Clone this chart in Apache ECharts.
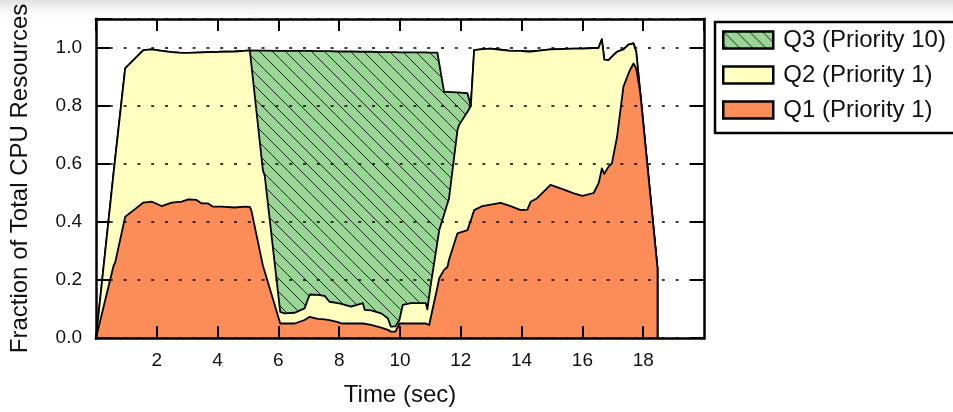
<!DOCTYPE html>
<html>
<head>
<meta charset="utf-8">
<script src="https://cdn.jsdelivr.net/npm/echarts@6/dist/echarts.min.js"></script>
<style>
  html, body { margin: 0; padding: 0; }
  body { background: linear-gradient(to bottom, #e0e0e0 0px, #f4f4f4 9px, #ffffff 18px); }
  #chart { width: 953px; height: 412px; }
</style>
</head>
<body>
<div id="chart"></div>
<script>
// Time (sec)
const times = [0, 0.58, 0.63, 0.96, 1.23, 1.56, 1.84, 2.16, 2.49, 2.82, 3.04, 3.31, 3.48, 3.69, 3.85, 4.13, 4.56, 4.89, 5.06, 5.11,
  5.49, 5.55, 6.06, 6.2, 6.54, 6.86, 7.03, 7.3, 7.52, 7.68, 7.96, 8.07, 8.39, 8.78, 8.84, 9.05, 9.38, 9.6, 9.7, 9.85,
  9.98, 10.09, 10.36, 10.85, 10.9, 10.96, 11.02, 11.23, 11.29, 11.45, 11.56, 11.61, 11.89, 11.94, 12.22, 12.27, 12.33, 12.44, 12.71, 12.98,
  13.31, 13.64, 13.97, 14.19, 14.3, 14.51, 14.95, 15.28, 15.72, 16.0, 16.37, 16.53, 16.59, 16.64, 16.72, 16.86, 16.97, 17.14, 17.35, 17.52,
  17.57, 17.68, 17.77, 17.9, 18.47, 18.47];

// Q1 (Priority 1) share of CPU
const q1 = [0, 0.25, 0.26, 0.418, 0.44, 0.467, 0.47, 0.455, 0.467, 0.47, 0.478, 0.476, 0.464, 0.464, 0.453, 0.453, 0.45, 0.453, 0.452, 0.44,
  0.25, 0.245, 0.05, 0.05, 0.05, 0.062, 0.073, 0.066, 0.064, 0.062, 0.055, 0.05, 0.05, 0.05, 0.048, 0.045, 0.036, 0.028, 0.022, 0.022,
  0.05, 0.05, 0.05, 0.05, 0.047, 0.045, 0.074, 0.175, 0.206, 0.235, 0.245, 0.269, 0.361, 0.363, 0.372, 0.388, 0.406, 0.441, 0.455, 0.46,
  0.466, 0.455, 0.441, 0.443, 0.47, 0.482, 0.528, 0.516, 0.499, 0.49, 0.5, 0.533, 0.56, 0.585, 0.566, 0.591, 0.602, 0.694, 0.867, 0.913,
  0.925, 0.947, 0.93, 0.848, 0.24, 0];

// Q2 (Priority 1) share of CPU
const q2 = [0, 0.32, 0.315, 0.512, 0.518, 0.526, 0.525, 0.535, 0.519, 0.513, 0.505, 0.508, 0.521, 0.522, 0.533, 0.534, 0.538, 0.537, 0.54, 0.504,
  0.328, 0.315, 0.04, 0.035, 0.037, 0.04, 0.077, 0.083, 0.081, 0.063, 0.065, 0.068, 0.058, 0.07, 0.049, 0.05, 0.049, 0.04, 0.017, 0.018,
  0.012, 0.064, 0.07, 0.07, 0.052, 0.099, 0.115, 0.156, 0.166, 0.191, 0.219, 0.211, 0.356, 0.371, 0.408, 0.398, 0.394, 0.552, 0.541, 0.538,
  0.528, 0.535, 0.549, 0.545, 0.518, 0.508, 0.467, 0.48, 0.499, 0.508, 0.5, 0.467, 0.442, 0.445, 0.394, 0.367, 0.368, 0.293, 0.128, 0.099,
  0.093, 0.069, 0.057, 0, 0, 0];

// Q3 (Priority 10) share of CPU
const q3 = [0, 0, 0, 0, 0, 0, 0, 0, 0, 0, 0, 0, 0, 0, 0, 0, 0, 0, 0, 0.048,
  0.413, 0.431, 0.9, 0.905, 0.903, 0.888, 0.84, 0.84, 0.844, 0.864, 0.868, 0.87, 0.88, 0.867, 0.89, 0.892, 0.901, 0.918, 0.947, 0.946,
  0.923, 0.871, 0.865, 0.865, 0.885, 0.84, 0.795, 0.653, 0.575, 0.423, 0.385, 0.369, 0.13, 0.112, 0.064, 0.058, 0, 0, 0, 0,
  0, 0, 0, 0, 0, 0, 0, 0, 0, 0, 0, 0, 0, 0, 0, 0, 0, 0, 0, 0,
  0, 0, 0, 0, 0, 0];

const seriesNames = ['Q1 (Priority 1)', 'Q2 (Priority 1)', 'Q3 (Priority 10)'];
const legendOrder = ['Q3 (Priority 10)', 'Q2 (Priority 1)', 'Q1 (Priority 1)'];
const xTickLabels = ['2', '4', '6', '8', '10', '12', '14', '16', '18'];
const yTickLabels = ['0.0', '0.2', '0.4', '0.6', '0.8', '1.0'];

const FONT = '"Liberation Sans", Arial, Helvetica, sans-serif';
const C_Q1 = '#fc8d59', C_Q2 = '#ffffbf', C_Q3 = '#99d594';

function hatch() {
  const s = 13;
  const c = document.createElement('canvas');
  c.width = s; c.height = s;
  const g = c.getContext('2d');
  g.fillStyle = C_Q3; g.fillRect(0, 0, s, s);
  g.strokeStyle = '#1e1e1e'; g.lineWidth = 1;
  g.beginPath();
  g.moveTo(-1, -1); g.lineTo(s + 1, s + 1);
  g.moveTo(-1, s - 1); g.lineTo(1, s + 1);
  g.moveTo(s - 1, -1); g.lineTo(s + 1, 1);
  g.stroke();
  return { image: c, repeat: 'repeat' };
}
const hatchFill = hatch();

// Stacked layers (cumulative tops) built from the per-queue shares
const layers = [q1, q2, q3];
const stacked = layers.map((_, k) => times.map((t, i) => {
  let s = 0;
  for (let j = 0; j <= k; j++) s += layers[j][i];
  return [t, Math.round(s * 1000) / 1000];
}));

const chart = echarts.init(document.getElementById('chart'), null, { renderer: 'canvas' });

function mk(name, data, fill, z) {
  return {
    name: name, type: 'line', xAxisIndex: 0, yAxisIndex: 0,
    showSymbol: false, symbol: 'none', smooth: false,
    data: data,
    lineStyle: { color: '#000', width: 1.8, join: 'round' },
    itemStyle: { color: fill },
    areaStyle: { color: fill, opacity: 1, origin: 'start' },
    z: z
  };
}

const axisCommon = {
  axisLine: { show: true, onZero: false, lineStyle: { color: '#000', width: 2.5, cap: 'square' } },
  axisTick: { show: true, inside: true, length: 12, lineStyle: { color: '#000', width: 2 } },
  splitLine: { show: false },
  z: 10
};

chart.setOption({
  animation: false,
  backgroundColor: 'transparent',
  textStyle: { fontFamily: FONT },
  grid: { left: 94, right: 249, top: 19, bottom: 74, containLabel: false },
  legend: {
    orient: 'vertical', left: 715, top: 22,
    padding: [6, 18, 11, 7],
    itemWidth: 50, itemHeight: 17, itemGap: 11,
    icon: 'rect', selectedMode: false,
    borderColor: '#000', borderWidth: 2.5, backgroundColor: '#fff',
    textStyle: { fontSize: 24, fontFamily: FONT, color: '#111', lineHeight: 24, padding: [0, 0, 0, 5] },
    itemStyle: { borderColor: '#000', borderWidth: 2.5 },
    data: legendOrder.map(n => ({
      name: n,
      itemStyle: { color: n === seriesNames[2] ? hatchFill : (n === seriesNames[1] ? C_Q2 : C_Q1), borderColor: '#000', borderWidth: 2.5 }
    }))
  },
  xAxis: [
    Object.assign({}, axisCommon, {
      type: 'value', position: 'bottom', min: 0, max: 20, interval: 2,
      name: 'Time (sec)', nameLocation: 'middle', nameGap: 45,
      nameTextStyle: { fontSize: 24, color: '#111', fontFamily: FONT },
      axisLabel: {
        show: true, margin: 13, fontSize: 19, color: '#111', fontFamily: FONT,
        showMinLabel: false, showMaxLabel: false,
        formatter: v => { const s = String(v); return xTickLabels.indexOf(s) >= 0 ? s : ''; }
      }
    }),
    Object.assign({}, axisCommon, {
      type: 'value', position: 'top', min: 0, max: 20, interval: 2,
      axisLabel: { show: false }
    })
  ],
  yAxis: [
    Object.assign({}, axisCommon, {
      type: 'value', position: 'left', min: 0, max: 1.1, interval: 0.2,
      name: 'Fraction of Total CPU Resources', nameLocation: 'middle', nameGap: 64, nameRotate: 90,
      nameTextStyle: { fontSize: 24, color: '#111', fontFamily: FONT },
      axisTick: { show: true, inside: true, length: 14, lineStyle: { color: '#000', width: 2 } },
      axisLabel: {
        show: true, margin: 14, fontSize: 19, color: '#111', fontFamily: FONT,
        formatter: v => { const s = v.toFixed(1); return yTickLabels.indexOf(s) >= 0 && v < 1.05 ? s : ''; }
      },
      splitLine: { show: true, lineStyle: { color: '#000', width: 1.5, type: [3, 10.8] } }
    }),
    Object.assign({}, axisCommon, {
      type: 'value', position: 'right', min: 0, max: 1.1, interval: 0.2,
      axisTick: { show: true, inside: true, length: 14, lineStyle: { color: '#000', width: 2 } },
      axisLabel: { show: false }
    })
  ],
  series: [
    mk(seriesNames[2], stacked[2], hatchFill, 2),
    mk(seriesNames[1], stacked[1], C_Q2, 3),
    mk(seriesNames[0], stacked[0], C_Q1, 4)
  ]
});
</script>
</body>
</html>
